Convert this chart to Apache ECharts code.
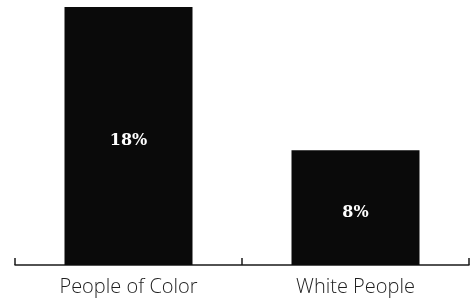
<!DOCTYPE html>
<html>
<head>
    <meta charset="UTF-8"/>
    <script type="text/javascript" src="https://cdn.jsdelivr.net/npm/echarts@6/dist/echarts.min.js"></script>
    <title>Chart</title>
    <style>
        html, body { margin: 0; padding: 0; background: #fff; }
        #main { width: 471px; height: 301px; }
    </style>
</head>
<body>
<div id="main"></div>
<script type="text/javascript">
    var categories = ['People of Color', 'White People']
    var values = [18, 8]

    var myChart = echarts.init(document.getElementById('main'))
    var option = {
        animation: false,
        grid: {left: 15, right: 2, top: 7, bottom: 36},
        xAxis: {
            type: 'category',
            data: categories,
            axisLine: {show: true, lineStyle: {color: '#1a1a1a', width: 1.5}},
            axisTick: {show: true, inside: true, length: 7, alignWithLabel: false, lineStyle: {color: '#1a1a1a', width: 1.5}},
            axisLabel: {
                color: '#1e1e1e',
                fontFamily: 'Open Sans',
                fontWeight: 300,
                fontSize: 20,
                margin: 12
            }
        },
        yAxis: {
            type: 'value',
            min: 0,
            max: 18,
            show: false
        },
        series: [{
            type: 'bar',
            data: values,
            barWidth: 128,
            itemStyle: {color: '#0a0a0a'},
            label: {
                show: true,
                position: 'inside',
                offset: [0, 5],
                formatter: '{c}%',
                color: '#fff',
                fontFamily: 'DejaVu Serif',
                fontWeight: 'bold',
                fontSize: 16
            }
        }]
    }
    myChart.setOption(option)
</script>
</body>
</html>
